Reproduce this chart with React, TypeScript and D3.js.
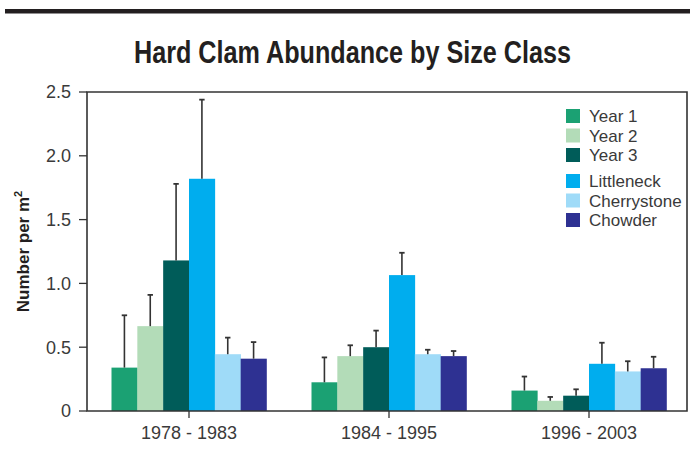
import React from "react";
import * as d3 from "d3";

// values
const periods = ["1978 - 1983", "1984 - 1995", "1996 - 2003"];
const seriesNames = ["Year 1", "Year 2", "Year 3", "Littleneck", "Cherrystone", "Chowder"];
const colors = ["#1ba173", "#b3dcb8", "#005c59", "#00adee", "#9fdbf8", "#2e3192"];

const year1 = [0.34, 0.225, 0.16];
const year2 = [0.665, 0.43, 0.08];
const year3 = [1.18, 0.5, 0.12];
const littleneck = [1.82, 1.065, 0.37];
const cherrystone = [0.445, 0.445, 0.31];
const chowder = [0.41, 0.43, 0.335];

// upper error (standard error) per bar
const year1Err = [0.41, 0.195, 0.11];
const year2Err = [0.245, 0.085, 0.03];
const year3Err = [0.6, 0.13, 0.05];
const littleneckErr = [0.62, 0.175, 0.165];
const cherrystoneErr = [0.13, 0.035, 0.08];
const chowderErr = [0.13, 0.04, 0.09];

const yTicks = [0, 0.5, 1.0, 1.5, 2.0, 2.5];

const means = [year1, year2, year3, littleneck, cherrystone, chowder];
const errs = [year1Err, year2Err, year3Err, littleneckErr, cherrystoneErr, chowderErr];

const W = 690,
  H = 459;
const left = 87,
  right = 687,
  top = 92,
  bottom = 411;
const axisColor = "#333";
const textColor = "#3a3a3a";
const font = "'Liberation Sans', Arial, sans-serif";

export default function App() {
  const x0 = d3
    .scaleBand()
    .domain(periods)
    .range([left + 2, right + 2])
    .paddingInner(0.225)
    .paddingOuter(0.1125);
  const x1 = d3.scaleBand().domain(seriesNames).range([0, x0.bandwidth()]);
  const y = d3.scaleLinear().domain([0, 2.5]).range([bottom, top]);

  // legend rows, with a gap between the age classes and the size classes
  const legendY = d3
    .scaleOrdinal<string, number>()
    .domain(seriesNames)
    .range([109, 128.5, 148, 174, 193.5, 213]);

  return (
    <div style={{ position: "absolute", left: 0, top: 0 }}>
      <svg width={W} height={H} style={{ display: "block", background: "#fff" }}>
        <rect x={5} y={9} width={685} height={4.5} fill="#231f20" />

        <text
          x={352.5}
          y={63}
          textAnchor="middle"
          fontFamily={font}
          fontWeight="bold"
          fontSize={31}
          fill="#231f20"
          textLength={437}
          lengthAdjust="spacingAndGlyphs"
        >
          Hard Clam Abundance by Size Class
        </text>

        {/* bars */}
        {periods.map((p, pi) => (
          <g key={p} transform={`translate(${x0(p)},0)`}>
            {seriesNames.map((s, si) => {
              const v = means[si][pi];
              const bx = x1(s)!;
              const cx = bx + x1.bandwidth() / 2;
              const et = y(v + errs[si][pi]);
              return (
                <g key={s}>
                  <rect
                    x={bx}
                    y={y(v)}
                    width={x1.bandwidth() + 0.3}
                    height={y(0) - y(v)}
                    fill={colors[si]}
                  />
                  <line x1={cx} x2={cx} y1={y(v)} y2={et} stroke={axisColor} strokeWidth={1.6} />
                  <line x1={cx - 2.7} x2={cx + 2.7} y1={et} y2={et} stroke={axisColor} strokeWidth={1.8} />
                </g>
              );
            })}
          </g>
        ))}

        {/* frame */}
        <path
          d={`M${left},${top}H${right}V${bottom}H${left}Z`}
          fill="none"
          stroke={axisColor}
          strokeWidth={1.6}
        />

        {/* y axis */}
        {yTicks.map((t) => (
          <g key={t}>
            <line x1={left - 8} x2={left} y1={y(t)} y2={y(t)} stroke={axisColor} strokeWidth={1.3} />
            <text
              x={left - 16}
              y={y(t)}
              dy="0.35em"
              textAnchor="end"
              fontFamily={font}
              fontSize={18}
              fill={textColor}
            >
              {t === 0 ? "0" : d3.format(".1f")(t)}
            </text>
          </g>
        ))}

        {/* x axis */}
        {periods.map((p) => {
          const cx = x0(p)! + x0.bandwidth() / 2;
          return (
            <g key={p}>
              <line x1={cx} x2={cx} y1={bottom} y2={bottom + 7} stroke={axisColor} strokeWidth={1.3} />
              <text x={cx} y={439} textAnchor="middle" fontFamily={font} fontSize={18} fill={textColor}>
                {p}
              </text>
            </g>
          );
        })}

        <text
          transform={`translate(29, ${(top + bottom) / 2}) rotate(-90)`}
          textAnchor="middle"
          fontFamily={font}
          fontWeight="bold"
          fontSize={17}
          fill="#231f20"
        >
          Number per m
          <tspan fontSize={11} dy={-7}>
            2
          </tspan>
        </text>

        {/* legend */}
        {seriesNames.map((s, si) => (
          <g key={s} transform={`translate(566, ${legendY(s)})`}>
            <rect width={14} height={14} fill={colors[si]} />
            <text x={23} y={7} dy="0.36em" fontFamily={font} fontSize={17} fill={textColor}>
              {s}
            </text>
          </g>
        ))}
      </svg>
    </div>
  );
}
